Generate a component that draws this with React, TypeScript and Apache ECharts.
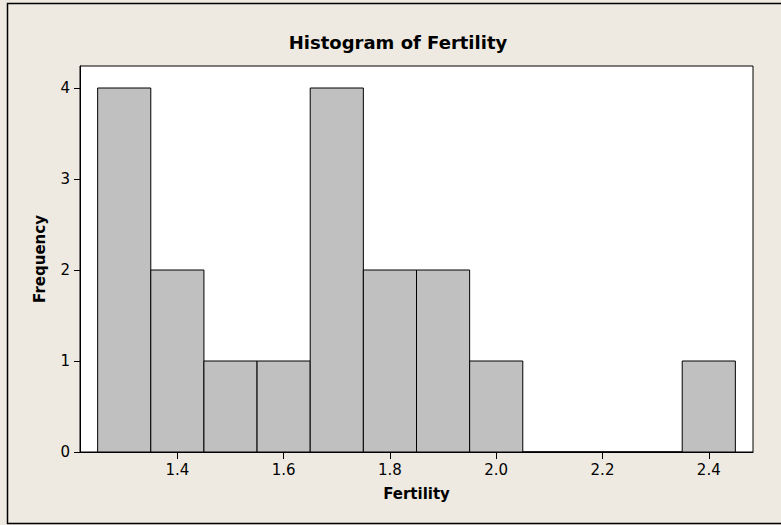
import React, { useEffect, useRef } from "react";
import * as echarts from "echarts";

const binCenters = [1.3, 1.4, 1.5, 1.6, 1.7, 1.8, 1.9, 2.0, 2.1, 2.2, 2.3, 2.4];
const counts = [4, 2, 1, 1, 4, 2, 2, 1, 0, 0, 0, 1];
const binWidth = 0.1;
const xTicks = [1.4, 1.6, 1.8, 2.0, 2.2, 2.4];
const yTicks = [0, 1, 2, 3, 4];
const titleText = "Histogram of Fertility";
const xName = "Fertility";
const yName = "Frequency";

export default function App() {
  const ref = useRef<HTMLDivElement>(null);
  useEffect(() => {
    if (!ref.current) return;
    const chart = echarts.init(ref.current, null, { renderer: "svg" });
    const data = binCenters.map((c, i) => [c, counts[i]]);
    chart.setOption({
      animation: false,
      backgroundColor: "#EEEAE1",
      graphic: [
        {
          type: "polyline",
          shape: { points: [[800, 3.5], [7.5, 3.5], [7.5, 523.5], [800, 523.5]] },
          style: { stroke: "#000", lineWidth: 1.5, fill: null },
          z: 0,
        },
        {
          type: "text",
          x: 398,
          y: 42,
          style: {
            text: titleText,
            textAlign: "center",
            textVerticalAlign: "middle",
            fontFamily: "DejaVu Sans",
            fontWeight: "bold",
            fontSize: 18,
            fill: "#000",
          },
        },
      ],
      grid: {
        left: 80,
        top: 66,
        right: 28,
        bottom: 73,
        show: true,
        backgroundColor: "#fff",
        borderColor: "#000",
        borderWidth: 1,
      },
      xAxis: {
        type: "value",
        min: 1.2168,
        max: 2.4832,
        name: xName,
        nameLocation: "middle",
        nameGap: 34,
        nameTextStyle: { fontFamily: "DejaVu Sans", fontWeight: "bold", fontSize: 15, color: "#000" },
        splitLine: { show: false },
        axisLine: { show: true, onZero: false, lineStyle: { color: "#000", width: 1 } },
        axisTick: { show: true, length: 7, customValues: xTicks, lineStyle: { color: "#000" } },
        axisLabel: {
          customValues: xTicks,
          formatter: (v: number) => v.toFixed(1),
          margin: 10,
          fontFamily: "DejaVu Sans",
          fontSize: 15,
          color: "#000",
        },
      },
      yAxis: {
        type: "value",
        min: 0,
        max: 4.2418,
        name: yName,
        nameLocation: "middle",
        nameGap: 33,
        nameTextStyle: { fontFamily: "DejaVu Sans", fontWeight: "bold", fontSize: 15, color: "#000" },
        splitLine: { show: false },
        axisLine: { show: true, lineStyle: { color: "#000", width: 1 } },
        axisTick: { show: true, length: 6, customValues: yTicks, lineStyle: { color: "#000" } },
        axisLabel: {
          customValues: yTicks,
          margin: 10,
          fontFamily: "DejaVu Sans",
          fontSize: 15,
          color: "#000",
        },
      },
      series: [
        {
          type: "custom",
          data,
          renderItem: (params: any, api: any) => {
            const c = api.value(0);
            const h = api.value(1);
            const p0 = api.coord([c - binWidth / 2, h]);
            const p1 = api.coord([c + binWidth / 2, 0]);
            return {
              type: "rect",
              shape: { x: p0[0], y: p0[1], width: p1[0] - p0[0], height: p1[1] - p0[1] },
              style: { fill: "#C0C0C0", stroke: "#000", lineWidth: 1 },
            };
          },
        },
      ],
    });
    return () => chart.dispose();
  }, []);
  return (
    <div
      ref={ref}
      style={{ position: "fixed", left: 0, top: 0, width: 781, height: 525 }}
    />
  );
}
